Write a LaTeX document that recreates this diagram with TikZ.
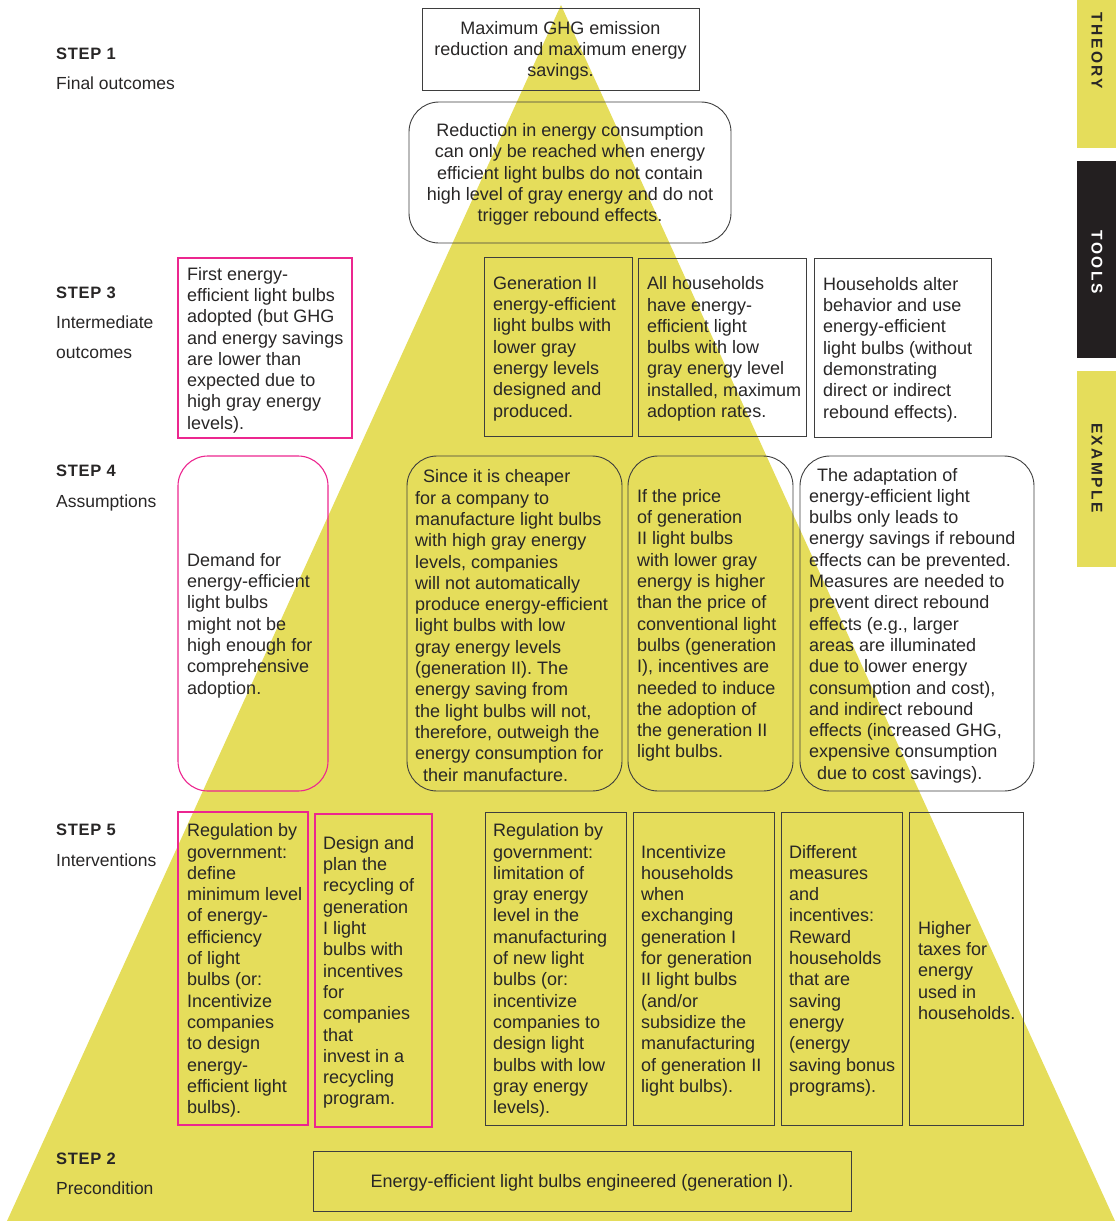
\documentclass[tikz,border=0pt]{standalone}
\usepackage{fontspec}
\setmainfont{Liberation Sans}
\newfontfamily\stepfont[LetterSpace=4]{Liberation Sans}
\newfontfamily\tabfont[LetterSpace=16]{Liberation Sans}
\definecolor{triy}{RGB}{229,221,91}
\definecolor{pinkc}{RGB}{236,38,143}
\definecolor{boxc}{RGB}{62,62,62}
\definecolor{txtc}{RGB}{40,38,38}
\definecolor{tabdark}{RGB}{35,31,32}
\newcommand\mkbox[6]{\node[#2, minimum width={(#5-#3)*1pt}, minimum height={(#6-#4)*1pt}] (#1) at ({(#3+#5)/2},{(#4+#6)/2}) {};}
\tikzset{
  obox/.style={draw=boxc, line width=0.9pt, inner sep=0pt, outer sep=0pt},
  rbox/.style={obox, rounded corners=30pt},
  pbox/.style={draw=pinkc, line width=1.1pt, inner sep=0pt, outer sep=0pt},
  prbox/.style={pbox, rounded corners=30pt},
  txt/.style={align=left, inner sep=0pt, text=txtc, font=\fontsize{18}{21.3}\selectfont, anchor=west, yshift=-2pt},
  ctxt/.style={align=center, inner sep=0pt, text=txtc, font=\fontsize{18}{21.3}\selectfont, yshift=-2pt},
  steplbl/.style={inner sep=0pt, anchor=base west, text=txtc, font=\stepfont\bfseries\fontsize{16.5}{20}\selectfont},
  sublbl/.style={inner sep=0pt, anchor=base west, text=txtc, font=\fontsize{17.5}{20}\selectfont},
  tablbl/.style={inner sep=0pt, rotate=-90, font=\tabfont\bfseries\fontsize{15.5}{18}\selectfont}
}
\begin{document}
\begin{tikzpicture}[x=1pt,y=-1pt]
\useasboundingbox (0,0) rectangle (1116,1221);
% pyramid
\coordinate (apex) at (561,5);
\coordinate (bl) at (7,1221);
\coordinate (br) at (1115,1221);
\fill[triy] (apex) -- (bl) -- (br) -- cycle;

% side tabs
\mkbox{tabTheory}{fill=triy, inner sep=0pt}{1077}{0}{1116}{148}
\mkbox{tabTools}{fill=tabdark, inner sep=0pt}{1077}{161}{1116}{358}
\mkbox{tabExample}{fill=triy, inner sep=0pt}{1077}{371}{1116}{567}
\node[tablbl, text=txtc] (tTheory) at (1097,51) {THEORY};
\node[tablbl, text=white] (tTools) at (1097,262) {TOOLS};
\node[tablbl, text=txtc] (tExample) at (1097,468) {EXAMPLE};

% step labels
\node[steplbl] (s1) at (56,59) {STEP 1};
\node[sublbl] (s1a) at (56,89) {Final outcomes};
\node[steplbl] (s3) at (56,298) {STEP 3};
\node[sublbl] (s3a) at (56,328) {Intermediate};
\node[sublbl] (s3b) at (56,358) {outcomes};
\node[steplbl] (s4) at (56,476) {STEP 4};
\node[sublbl] (s4a) at (56,507) {Assumptions};
\node[steplbl] (s5) at (56,835) {STEP 5};
\node[sublbl] (s5a) at (56,866) {Interventions};
\node[steplbl] (s2) at (56,1164) {STEP 2};
\node[sublbl] (s2a) at (56,1194) {Precondition};

% STEP 1
\mkbox{fo}{obox}{422}{8}{699}{90}
\node[ctxt] (fot) at (fo.center) {Maximum GHG emission\\reduction and maximum energy\\savings.};
\mkbox{fr}{rbox}{409}{102}{731}{243}
\node[ctxt] (frt) at (fr.center) {Reduction in energy consumption\\can only be reached when energy\\efficient light bulbs do not contain\\high level of gray energy and do not\\trigger rebound effects.};

% STEP 3
\mkbox{ia}{pbox}{178}{258}{352}{438}
\node[txt] (iat) at ([xshift=9pt]ia.west) {First energy-\\efficient light bulbs\\adopted (but GHG\\and energy savings\\are lower than\\expected due to\\high gray energy\\levels).};
\mkbox{ib}{obox}{484}{257}{632}{436}
\node[txt] (ibt) at ([xshift=9pt]ib.west) {Generation II\\energy-efficient\\light bulbs with\\lower gray\\energy levels\\designed and\\produced.};
\mkbox{ic}{obox}{638}{258}{806}{436}
\node[txt] (ict) at ([xshift=9pt]ic.west) {All households\\have energy-\\efficient light\\bulbs with low\\gray energy level\\installed, maximum\\adoption rates.};
\mkbox{id}{obox}{814}{258}{991}{437}
\node[txt] (idt) at ([xshift=9pt]id.west) {Households alter\\behavior and use\\energy-efficient\\light bulbs (without\\demonstrating\\direct or indirect\\rebound effects).};

% STEP 4
\mkbox{aa}{prbox}{178}{456}{328}{791}
\node[txt] (aat) at ([xshift=9pt]aa.west) {Demand for\\energy-efficient\\light bulbs\\might not be\\high enough for\\comprehensive\\adoption.};
\mkbox{ab}{rbox}{407}{456}{622}{791}
\node[txt] (abt) at ([xshift=8pt]ab.west) {\hspace*{8pt}Since it is cheaper\\for a company to\\manufacture light bulbs\\with high gray energy\\levels, companies\\will not automatically\\produce energy-efficient\\light bulbs with low\\gray energy levels\\(generation II). The\\energy saving from\\the light bulbs will not,\\therefore, outweigh the\\energy consumption for\\\hspace*{8pt}their manufacture.};
\mkbox{ac}{rbox}{628}{456}{793}{791}
\node[txt] (act) at ([xshift=9pt]ac.west) {If the price\\of generation\\II light bulbs\\with lower gray\\energy is higher\\than the price of\\conventional light\\bulbs (generation\\I), incentives are\\needed to induce\\the adoption of\\the generation II\\light bulbs.};
\mkbox{ad}{rbox}{800}{456}{1034}{791}
\node[txt] (adt) at ([xshift=9pt]ad.west) {\hspace*{8pt}The adaptation of\\energy-efficient light\\bulbs only leads to\\energy savings if rebound\\effects can be prevented.\\Measures are needed to\\prevent direct rebound\\effects (e.g., larger\\areas are illuminated\\due to lower energy\\consumption and cost),\\and indirect rebound\\effects (increased GHG,\\expensive consumption\\\hspace*{8pt}due to cost savings).};

% STEP 5
\mkbox{va}{pbox}{178}{812}{308}{1125}
\node[txt] (vat) at ([xshift=9pt]va.west) {Regulation by\\government:\\define\\minimum level\\of energy-\\efficiency\\of light\\bulbs (or:\\Incentivize\\companies\\to design\\energy-\\efficient light\\bulbs).};
\mkbox{vb}{pbox}{315}{814}{432}{1127}
\node[txt] (vbt) at ([xshift=8pt]vb.west) {Design and\\plan the\\recycling of\\generation\\I light\\bulbs with\\incentives\\for\\companies\\that\\invest in a\\recycling\\program.};
\mkbox{vc}{obox}{485}{812}{626}{1125}
\node[txt] (vct) at ([xshift=8pt]vc.west) {Regulation by\\government:\\limitation of\\gray energy\\level in the\\manufacturing\\of new light\\bulbs (or:\\incentivize\\companies to\\design light\\bulbs with low\\gray energy\\levels).};
\mkbox{vd}{obox}{633}{812}{774}{1125}
\node[txt] (vdt) at ([xshift=8pt]vd.west) {Incentivize\\households\\when\\exchanging\\generation I\\for generation\\II light bulbs\\(and/or\\subsidize the\\manufacturing\\of generation II\\light bulbs).};
\mkbox{ve}{obox}{781}{812}{902}{1125}
\node[txt] (vet) at ([xshift=8pt]ve.west) {Different\\measures\\and\\incentives:\\Reward\\households\\that are\\saving\\energy\\(energy\\saving bonus\\programs).};
\mkbox{vf}{obox}{909}{812}{1023}{1125}
\node[txt] (vft) at ([xshift=9pt]vf.west) {Higher\\taxes for\\energy\\used in\\households.};

% STEP 2
\mkbox{pc}{obox}{313}{1151}{851}{1211}
\node[ctxt] (pct) at (pc.center) {Energy-efficient light bulbs engineered (generation I).};
\end{tikzpicture}
\end{document}
